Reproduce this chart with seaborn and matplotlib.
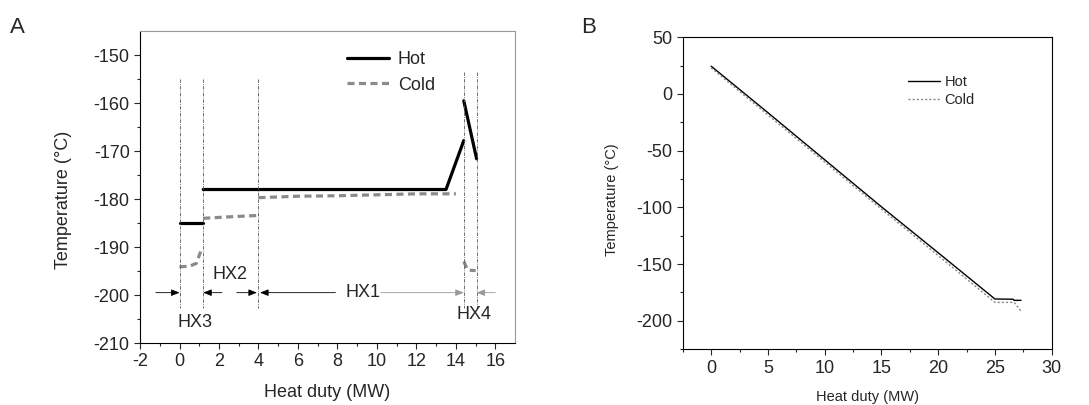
import pandas as pd
import matplotlib.pyplot as plt
import seaborn as sns

# Panel A: hot / cold composite curves, one list per segment
a_hot_x = [[0.0, 1.2], [1.2, 13.5, 14.4], [14.4, 15.05]]
a_hot_y = [[-185.0, -185.0], [-178.0, -178.0, -167.8], [-159.5, -171.6]]
a_cold_x = [[0.0, 0.5, 0.85, 1.1], [1.2, 2.5, 4.0], [4.0, 6.0, 8.0, 10.0, 12.0, 14.0], [14.4, 14.6, 15.0]]
a_cold_y = [[-194.1, -194.0, -193.4, -190.6], [-184.0, -183.7, -183.4], [-179.7, -179.4, -179.3, -179.1, -178.9, -178.9], [-193.0, -194.8, -194.9]]

# exchanger boundaries and labels
hx_bounds = [0.0, 1.2, 4.0, 14.4, 15.05]
hx_names = ['HX3', 'HX2', 'HX1', 'HX4']

# Panel B
b_hot_x = [0.0, 5.0, 10.0, 15.0, 20.0, 25.0, 26.6, 26.7, 27.3]
b_hot_y = [24.5, -16.5, -58.0, -99.5, -140.0, -180.8, -181.0, -182.0, -182.0]
b_cold_x = [0.0, 5.0, 10.0, 15.0, 20.0, 25.0, 26.7, 27.3]
b_cold_y = [23.0, -18.5, -60.0, -101.5, -142.5, -183.8, -183.8, -191.5]

sns.set_style('ticks')
plt.rcParams['font.family'] = ['Liberation Sans', 'DejaVu Sans']
plt.rcParams['axes.unicode_minus'] = False
plt.rcParams['xtick.direction'] = 'out'
plt.rcParams['ytick.direction'] = 'out'

fig = plt.figure(figsize=(10.89, 4.05), dpi=100)
axA = fig.add_axes([0.1286, 0.153, 0.3444, 0.770])
axB = fig.add_axes([0.627, 0.138, 0.3387, 0.770])

# ---- Panel A ----
for i, (xs, ys) in enumerate(zip(a_hot_x, a_hot_y)):
    sns.lineplot(x=xs, y=ys, ax=axA, color='black', lw=2.3, sort=False,
                 label='Hot' if i == 0 else None, legend=False)
for i, (xs, ys) in enumerate(zip(a_cold_x, a_cold_y)):
    sns.lineplot(x=xs, y=ys, ax=axA, color='#8a8a8a', lw=2.3, sort=False,
                 dashes=False, label='Cold' if i == 0 else None, legend=False)
for line in axA.lines[len(a_hot_x):]:
    line.set_dashes((2.2, 1.4))

tops = [-155, -155, -155, -153.5, -153.5]
for xb, yt in zip(hx_bounds, tops):
    axA.plot([xb, xb], [yt, -202.8], color='#555555', lw=0.6, ls=(0, (4, 1.5, 1, 1.5)))

arrow_y = -199.5
arr = dict(arrowstyle='-|>,head_length=0.5,head_width=0.2', color='black', lw=0.6,
           shrinkA=0, shrinkB=0)
axA.annotate('', xy=(hx_bounds[0], arrow_y), xytext=(-1.2, arrow_y), arrowprops=arr)
axA.annotate('', xy=(hx_bounds[1], arrow_y), xytext=(2.15, arrow_y), arrowprops=arr)
axA.annotate('', xy=(3.92, arrow_y), xytext=(2.9, arrow_y), arrowprops=arr)
axA.annotate('', xy=(4.08, arrow_y), xytext=(7.9, arrow_y), arrowprops=arr)
arr_g = dict(arr, color='#999999')
axA.annotate('', xy=(hx_bounds[3], arrow_y), xytext=(10.2, arrow_y), arrowprops=arr_g)
axA.annotate('', xy=(hx_bounds[4], arrow_y), xytext=(16.0, arrow_y), arrowprops=arr_g)

axA.text(0.8, -205.7, hx_names[0], fontsize=13, ha='center', va='center')
axA.text(2.56, -195.8, hx_names[1], fontsize=13, ha='center', va='center')
axA.text(9.3, -199.5, hx_names[2], fontsize=13, ha='center', va='center')
axA.text(14.9, -204.1, hx_names[3], fontsize=13, ha='center', va='center')

axA.set_xlim(-2, 17)
axA.set_ylim(-210, -145)
axA.set_xticks(range(-2, 17, 2))
axA.set_xticks(range(-2, 17), minor=True)
axA.set_yticks(range(-210, -149, 10))
axA.set_yticks(range(-210, -145, 5), minor=True)
axA.tick_params(labelsize=13, length=4, width=0.8)
axA.tick_params(which='minor', length=2.5, width=0.8)
for s in ['top', 'right']:
    axA.spines[s].set_color('#999999')
    axA.spines[s].set_linewidth(0.8)
for s in ['left', 'bottom']:
    axA.spines[s].set_color('black')
    axA.spines[s].set_linewidth(0.8)
axA.set_xlabel('Heat duty (MW)', fontsize=13, va='center')
axA.set_ylabel('Temperature (°C)', fontsize=13, va='center')
axA.xaxis.set_label_coords(0.498, -0.16)
axA.yaxis.set_label_coords(-0.205, 0.46)
axA.legend(loc='upper left', bbox_to_anchor=(0.552, 0.935), frameon=False, fontsize=13,
           borderpad=0, borderaxespad=0,
           handlelength=2.3, handletextpad=0.5, labelspacing=0.45)

# ---- Panel B ----
sns.lineplot(x=b_hot_x, y=b_hot_y, ax=axB, color='black', lw=1.0, sort=False, label='Hot')
sns.lineplot(x=b_cold_x, y=b_cold_y, ax=axB, color='#888888', lw=1.0, sort=False, label='Cold')
axB.lines[1].set_linestyle((0, (1.5, 1.5)))

axB.set_xlim(-2.5, 30)
axB.set_ylim(-225, 50)
axB.set_xticks(range(0, 31, 5))
axB.set_xticks([x * 2.5 for x in range(-1, 13)], minor=True)
axB.set_yticks(range(-200, 51, 50))
axB.set_yticks(range(-225, 51, 25), minor=True)
axB.tick_params(labelsize=13, length=4, width=0.8)
axB.tick_params(which='minor', length=2.5, width=0.8)
for s in axB.spines.values():
    s.set_color('black')
    s.set_linewidth(0.8)
axB.set_xlabel('Heat duty (MW)', fontsize=10.5, va='center')
axB.set_ylabel('Temperature (°C)', fontsize=10.5, va='center')
axB.xaxis.set_label_coords(0.502, -0.153)
axB.yaxis.set_label_coords(-0.192, 0.478)
axB.legend(loc='upper left', bbox_to_anchor=(0.61, 0.88), frameon=False, fontsize=10.5,
           borderpad=0, borderaxespad=0,
           handlelength=2.2, handletextpad=0.3, labelspacing=0.3)

fig.text(0.0092, 0.918, 'A', fontsize=16, va='baseline')
fig.text(0.534, 0.918, 'B', fontsize=16, va='baseline')

fig.savefig('out.png', dpi=100)
